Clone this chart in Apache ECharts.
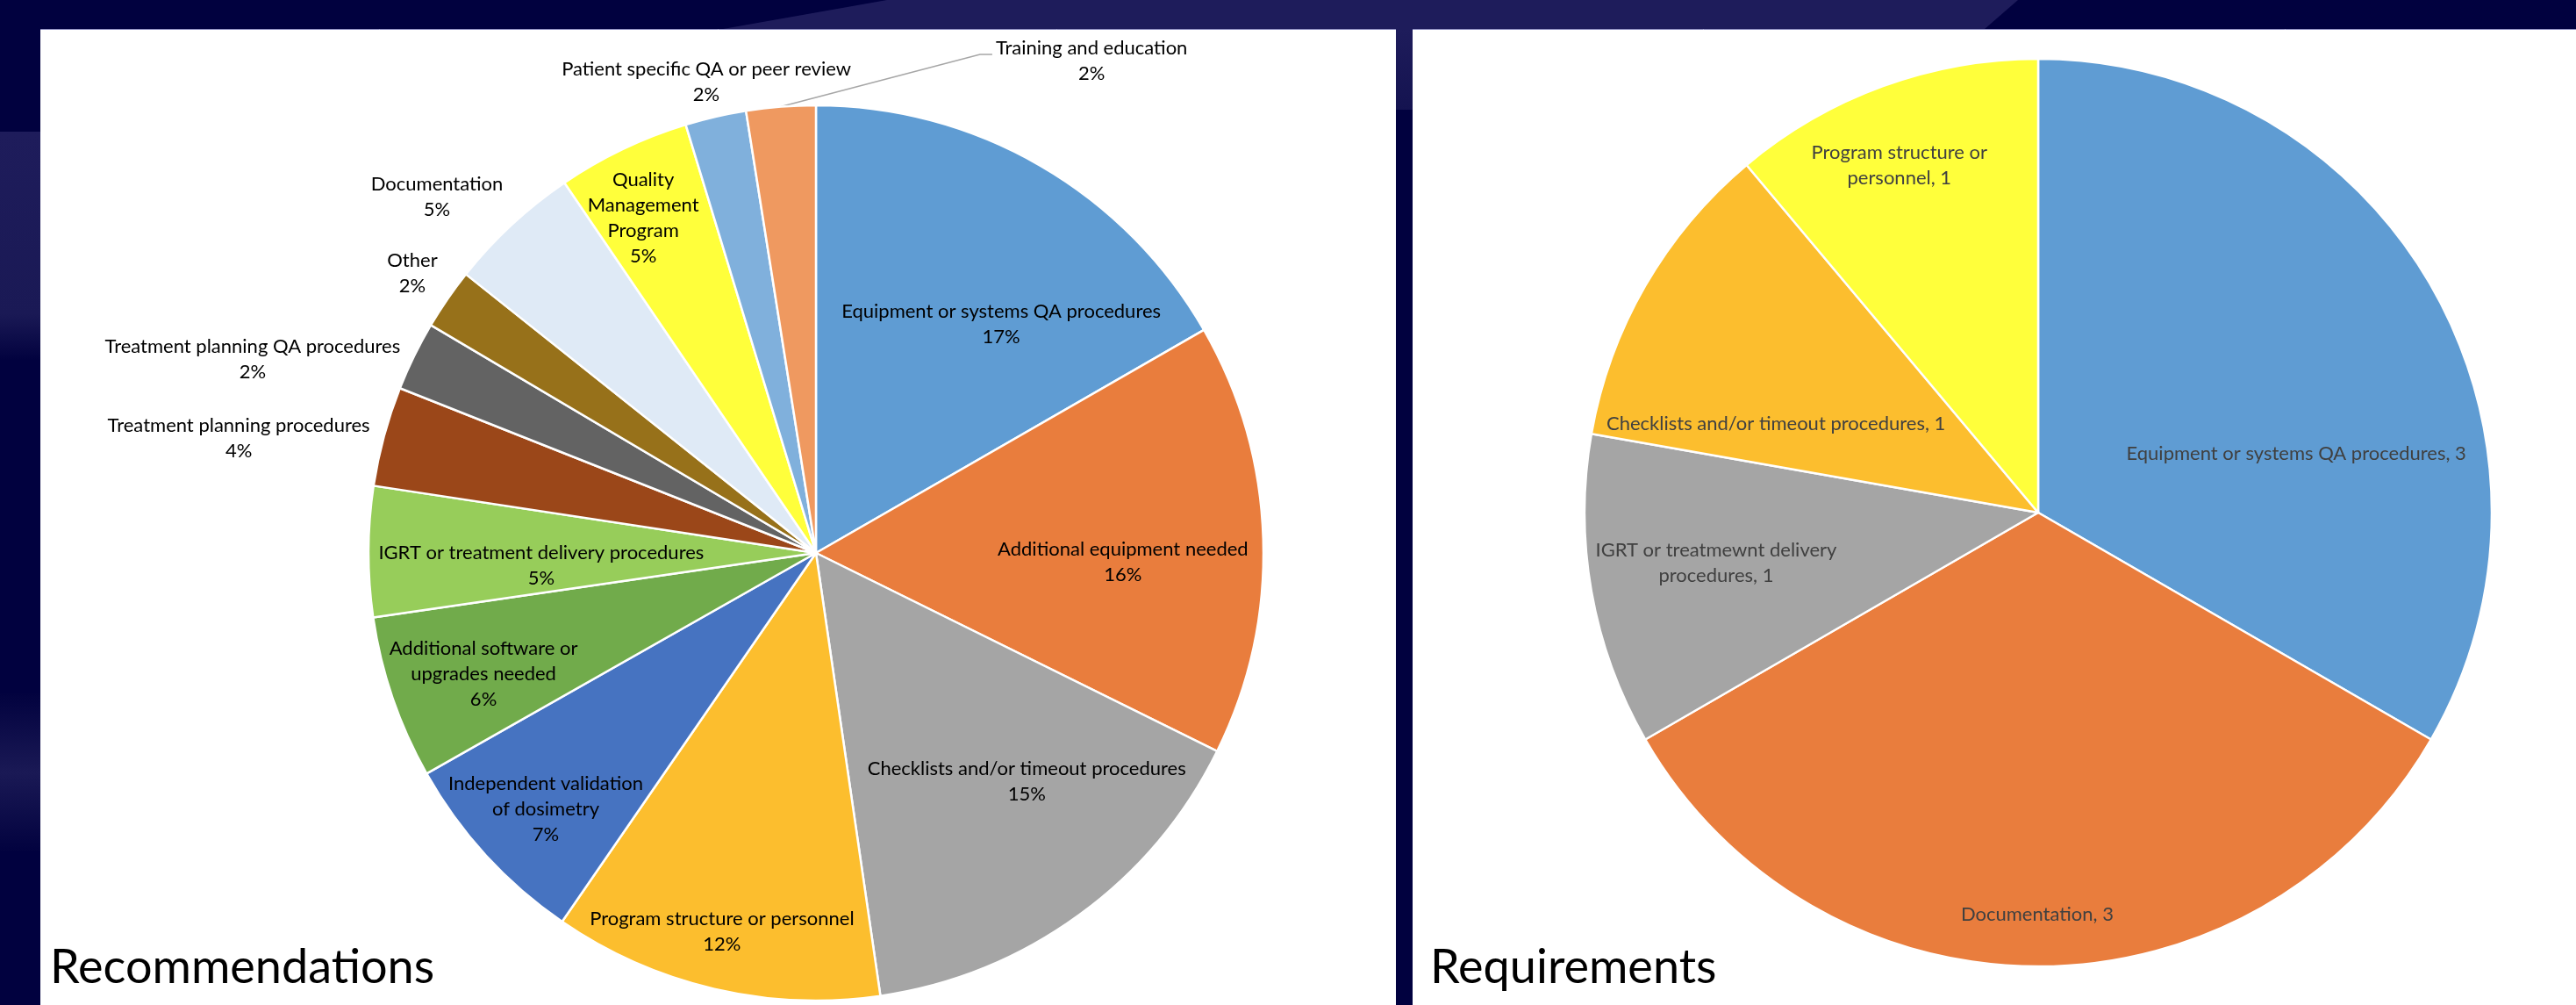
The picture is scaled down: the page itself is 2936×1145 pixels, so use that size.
<!DOCTYPE html>
<html>
<head>
<meta charset="utf-8">
<script src="https://cdn.jsdelivr.net/npm/echarts@6/dist/echarts.min.js"></script>
<style>
  html, body { margin: 0; padding: 0; background: #01013f; }
  #chart { width: 2936px; height: 1145px; }
</style>
</head>
<body>
<div id="chart"></div>
<script>
// Recommendations (left pie), clockwise from 12 o'clock
const recNames = [
  'Equipment or systems QA procedures',
  'Additional equipment needed',
  'Checklists and/or timeout procedures',
  'Program structure or personnel',
  'Independent validation\nof dosimetry',
  'Additional software or\nupgrades needed',
  'IGRT or treatment delivery procedures',
  'Treatment planning procedures',
  'Treatment planning QA procedures',
  'Other',
  'Documentation',
  'Quality\nManagement\nProgram',
  'Patient specific QA or peer review',
  'Training and education'
]
const recValues = [16.7, 15.6, 15.4, 11.9, 7.2, 5.9, 4.7, 3.6, 2.5, 2.2, 4.8, 4.8, 2.2, 2.5]

// Requirements (right pie)
const reqNames = [
  'Equipment or systems QA procedures',
  'Documentation',
  'IGRT or treatmewnt delivery\nprocedures',
  'Checklists and/or timeout procedures',
  'Program structure or\npersonnel'
]
const reqValues = [3, 3, 1, 1, 1]

// styles
const recColors = ['#5f9cd3', '#e97d3d', '#a5a5a5', '#fcbe2e', '#4673c1', '#71ab4b', '#97cd5a',
  '#9b4719', '#636363', '#97711a', '#dfeaf6', '#ffff3b', '#80b0dc', '#ef9960']
const reqColors = ['#5f9cd3', '#e97d3d', '#a5a5a5', '#fcbe2e', '#ffff3b']

// where the labels sit, as fractions of the radius from the pie centre
const recSpots = [[0.414, -0.51], [0.686, 0.02], [0.471, 0.51], [-0.21, 0.845], [-0.604, 0.573],
  [-0.743, 0.271], [-0.614, 0.029], [-1.29, -0.257], [-1.259, -0.433], [-0.902, -0.624],
  [-0.847, -0.796], [-0.386, -0.749], [-0.245, -1.053], [0.616, -1.1]]
const reqSpots = [[0.569, -0.13], [-0.002, 0.886], [-0.71, 0.112], [-0.578, -0.195], [-0.306, -0.766]]

const recCenter = [930, 630], recRadius = 510
const reqCenter = [2323, 584], reqRadius = 517

const font = 'Lato'

function spotLayout (spots, center, r) {
  return function (p) {
    const s = spots[p.dataIndex]
    const x = center[0] + s[0] * r
    const y = center[1] + s[1] * r
    const out = { x: x, y: y, align: 'center', verticalAlign: 'middle' }
    if (p.labelLinePoints && p.labelLinePoints.length) {
      const endX = x - p.labelRect.width / 2 - 4
      out.labelLinePoints = [p.labelLinePoints[0], [endX - 14, y - 7], [endX, y - 7]]
    }
    return out
  }
}

const chart = echarts.init(document.getElementById('chart'))

const option = {
  backgroundColor: '#01013f',
  animation: false,
  graphic: [
    { type: 'polygon', shape: { points: [[1011, 0], [2300, 0], [2262, 33], [824, 33]] }, style: { fill: '#1e1c5b' } },
    { type: 'rect', shape: { x: 0, y: 150, width: 46, height: 260 },
      style: { fill: new echarts.graphic.LinearGradient(0, 0, 0, 1, [
        { offset: 0, color: '#1e1c5b' }, { offset: 0.8, color: '#1a1955' }, { offset: 1, color: '#02023f' }]) } },
    { type: 'rect', shape: { x: 0, y: 790, width: 46, height: 180 },
      style: { fill: new echarts.graphic.LinearGradient(0, 0, 0, 1, [
        { offset: 0, color: '#02023f' }, { offset: 0.5, color: '#1a1955' }, { offset: 1, color: '#02023f' }]) } },
    { type: 'rect', shape: { x: 1591, y: 33, width: 19, height: 92 },
      style: { fill: new echarts.graphic.LinearGradient(0, 0, 0, 1, [
        { offset: 0, color: '#1e1c5b' }, { offset: 1, color: '#141350' }]) } },
    { type: 'rect', shape: { x: 46, y: 33, width: 1545, height: 1112 }, style: { fill: '#ffffff' } },
    { type: 'rect', shape: { x: 1610, y: 33, width: 1326, height: 1112 }, style: { fill: '#ffffff' } },
    { type: 'line', shape: { x1: 46, y1: 33.5, x2: 1591, y2: 33.5 }, style: { stroke: '#8c8cc0', lineWidth: 1 } },
    { type: 'line', shape: { x1: 1610, y1: 33.5, x2: 2936, y2: 33.5 }, style: { stroke: '#8c8cc0', lineWidth: 1 } },
    { type: 'text', x: 57, y: 1103, style: { text: 'Recommendations', font: '54px Lato', fill: '#000', verticalAlign: 'middle' } },
    { type: 'text', x: 1630, y: 1103, style: { text: 'Requirements', font: '54px Lato', fill: '#000', verticalAlign: 'middle' } }
  ],
  series: [
    {
      name: 'Recommendations',
      type: 'pie',
      center: recCenter,
      radius: recRadius,
      startAngle: 90,
      clockwise: true,
      percentPrecision: 0,
      avoidLabelOverlap: false,
      itemStyle: { borderColor: '#ffffff', borderWidth: 2.5 },
      label: {
        show: true,
        position: 'inside',
        formatter: '{b}\n{d}%',
        fontFamily: font,
        fontSize: 22,
        lineHeight: 29,
        color: '#000',
        textBorderWidth: 0,
        textBorderColor: 'transparent',
        overflow: 'none'
      },
      labelLine: { show: false, lineStyle: { color: '#a6a6a6', width: 1.5 } },
      labelLayout: spotLayout(recSpots, recCenter, recRadius),
      data: recNames.map((n, i) => {
        const d = { name: n, value: recValues[i], itemStyle: { color: recColors[i] } }
        if (i === recNames.length - 1) {
          d.label = { position: 'outside', alignTo: 'none' }
          d.labelLine = { show: true, length: 20, length2: 20, smooth: false }
        }
        return d
      })
    },
    {
      name: 'Requirements',
      type: 'pie',
      center: reqCenter,
      radius: reqRadius,
      startAngle: 90,
      clockwise: true,
      avoidLabelOverlap: false,
      itemStyle: { borderColor: '#ffffff', borderWidth: 2.5 },
      label: {
        show: true,
        position: 'inside',
        formatter: '{b}, {c}',
        fontFamily: font,
        fontSize: 22,
        lineHeight: 29,
        color: '#404040',
        textBorderWidth: 0,
        textBorderColor: 'transparent',
        overflow: 'none'
      },
      labelLine: { show: false },
      labelLayout: spotLayout(reqSpots, reqCenter, reqRadius),
      data: reqNames.map((n, i) => ({ name: n, value: reqValues[i], itemStyle: { color: reqColors[i] } }))
    }
  ]
}

option && chart.setOption(option)
window.addEventListener('resize', () => {
  chart.resize()
})
</script>
</body>
</html>
